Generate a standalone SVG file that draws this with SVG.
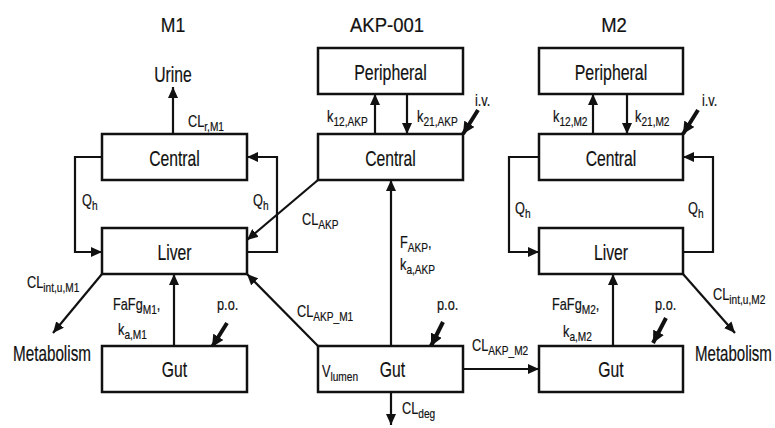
<svg xmlns="http://www.w3.org/2000/svg" width="775" height="428" viewBox="0 0 775 428">
<style>
text{font-family:"Liberation Sans",Arial,sans-serif;fill:#111;stroke:#111;stroke-width:0.2}
.t{font-size:21px}
.b{font-size:21.5px}
.l{font-size:17px}
.s{font-size:13.5px}
rect{fill:#fff;stroke:#111;stroke-width:2.5}
.c{fill:none;stroke:#111;stroke-width:2.2;marker-end:url(#ah)}
.k{fill:none;stroke:#111;stroke-width:4;marker-end:url(#ahb)}
</style>
<defs>
<marker id="ah" markerUnits="userSpaceOnUse" markerWidth="11" markerHeight="10" refX="11" refY="5" orient="auto"><path d="M0,0 L11,5 L0,10 z" fill="#111"/></marker>
<marker id="ahb" markerUnits="userSpaceOnUse" markerWidth="12" markerHeight="12" refX="12" refY="6" orient="auto"><path d="M0,0 L12,6 L0,12 z" fill="#111"/></marker>
</defs>
<rect x="0" y="0" width="775" height="428" style="stroke:none"/>

<g id="titles">
<text class="t" text-anchor="middle" transform="translate(173,32) scale(.84,1)">M1</text>
<text class="t" text-anchor="middle" transform="translate(387,32) scale(.88,1)">AKP-001</text>
<text class="t" text-anchor="middle" transform="translate(614,32) scale(.88,1)">M2</text>
</g>

<g id="connectors">
<path class="c" d="M173,134 V87"/>
<path class="c" d="M102,157 H75 V252 H102"/>
<path class="c" d="M247,252 H277 V157 H247"/>
<path class="c" d="M174,346 V274"/>
<path class="c" d="M102,274 L53,333"/>
<path class="k" d="M227,323 L212,347"/>
<path class="c" d="M375,134 V94"/>
<path class="c" d="M407,94 V134"/>
<path class="k" d="M478,110 L463,134"/>
<path class="c" d="M318,180 L247,240"/>
<path class="c" d="M391,346 V180"/>
<path class="c" d="M318,346 L247,274"/>
<path class="k" d="M443,322 L431,346"/>
<path class="c" d="M463,369 H539"/>
<path class="c" d="M391,392 V425"/>
<path class="c" d="M593,134 V94"/>
<path class="c" d="M627,94 V134"/>
<path class="k" d="M698,110 L683,134"/>
<path class="c" d="M539,157 H509 V252 H539"/>
<path class="c" d="M683,252 H713 V157 H683"/>
<path class="c" d="M613,346 V274"/>
<path class="c" d="M683,274 L735,333"/>
<path class="k" d="M666,318 L653,343"/>
</g>

<g id="m1-urine"><text class="b" text-anchor="middle" transform="translate(173,82) scale(.73,1)">Urine</text></g>
<g id="m1-central"><rect x="102" y="134" width="145" height="46"/><text class="b" text-anchor="middle" transform="translate(174.5,166) scale(.73,1)">Central</text></g>
<g id="m1-liver"><rect x="102" y="228" width="145" height="46"/><text class="b" text-anchor="middle" transform="translate(174.5,260) scale(.73,1)">Liver</text></g>
<g id="m1-gut"><rect x="102" y="346" width="145" height="46"/><text class="b" text-anchor="middle" transform="translate(174.5,377) scale(.73,1)">Gut</text></g>
<g id="m1-metabolism"><text class="b" transform="translate(13,361) scale(.71,1)">Metabolism</text></g>

<g id="akp-peripheral"><rect x="318" y="48" width="145" height="46"/><text class="b" text-anchor="middle" transform="translate(390.5,80) scale(.74,1)">Peripheral</text></g>
<g id="akp-central"><rect x="318" y="134" width="145" height="46"/><text class="b" text-anchor="middle" transform="translate(390.5,166) scale(.73,1)">Central</text></g>
<g id="akp-gut"><rect x="318" y="346" width="145" height="46"/><text class="b" text-anchor="middle" transform="translate(392.5,377) scale(.73,1)">Gut</text></g>

<g id="m2-peripheral"><rect x="539" y="48" width="144" height="46"/><text class="b" text-anchor="middle" transform="translate(611,80) scale(.74,1)">Peripheral</text></g>
<g id="m2-central"><rect x="539" y="134" width="144" height="46"/><text class="b" text-anchor="middle" transform="translate(611,166) scale(.73,1)">Central</text></g>
<g id="m2-liver"><rect x="539" y="228" width="144" height="46"/><text class="b" text-anchor="middle" transform="translate(611,260) scale(.73,1)">Liver</text></g>
<g id="m2-gut"><rect x="539" y="346" width="144" height="46"/><text class="b" text-anchor="middle" transform="translate(611,377) scale(.73,1)">Gut</text></g>
<g id="m2-metabolism"><text class="b" transform="translate(695,361) scale(.7,1)">Metabolism</text></g>

<g id="labels">
<text class="l" transform="translate(188,127) scale(.75,1)">CL<tspan class="s" dy="4">r,M1</tspan></text>
<text class="l" transform="translate(82,206) scale(.75,1)">Q<tspan class="s" dy="4">h</tspan></text>
<text class="l" transform="translate(253,206) scale(.75,1)">Q<tspan class="s" dy="4">h</tspan></text>
<text class="l" transform="translate(113,310) scale(.75,1)">FaFg<tspan class="s" dy="4">M1</tspan><tspan dy="-4">,</tspan></text>
<text class="l" transform="translate(118,335) scale(.75,1)">k<tspan class="s" dy="4">a,M1</tspan></text>
<text class="l" transform="translate(217,310) scale(.75,1)">p.o.</text>
<text class="l" transform="translate(27,288) scale(.75,1)">CL<tspan class="s" dy="4">int,u,M1</tspan></text>

<text class="l" transform="translate(327,122) scale(.75,1)">k<tspan class="s" dy="4">12,AKP</tspan></text>
<text class="l" transform="translate(417,122) scale(.75,1)">k<tspan class="s" dy="4">21,AKP</tspan></text>
<text class="l" transform="translate(475,106) scale(.75,1)">i.v.</text>
<text class="l" transform="translate(302,225) scale(.75,1)">CL<tspan class="s" dy="4">AKP</tspan></text>
<text class="l" transform="translate(400,248) scale(.75,1)">F<tspan class="s" dy="4">AKP</tspan><tspan dy="-4">,</tspan></text>
<text class="l" transform="translate(400,270) scale(.75,1)">k<tspan class="s" dy="4">a,AKP</tspan></text>
<text class="l" transform="translate(297,317) scale(.75,1)">CL<tspan class="s" dy="4">AKP_M1</tspan></text>
<text class="l" transform="translate(437,310) scale(.75,1)">p.o.</text>
<text class="l" transform="translate(472,351) scale(.75,1)">CL<tspan class="s" dy="4">AKP_M2</tspan></text>
<text class="l" transform="translate(322,377) scale(.75,1)">V<tspan class="s" dy="4">lumen</tspan></text>
<text class="l" transform="translate(402,414) scale(.75,1)">CL<tspan class="s" dy="4">deg</tspan></text>

<text class="l" transform="translate(553,122) scale(.75,1)">k<tspan class="s" dy="4">12,M2</tspan></text>
<text class="l" transform="translate(635,122) scale(.75,1)">k<tspan class="s" dy="4">21,M2</tspan></text>
<text class="l" transform="translate(702,106) scale(.75,1)">i.v.</text>
<text class="l" transform="translate(515,214) scale(.75,1)">Q<tspan class="s" dy="4">h</tspan></text>
<text class="l" transform="translate(688,214) scale(.75,1)">Q<tspan class="s" dy="4">h</tspan></text>
<text class="l" transform="translate(552,310) scale(.75,1)">FaFg<tspan class="s" dy="4">M2</tspan><tspan dy="-4">,</tspan></text>
<text class="l" transform="translate(563,337) scale(.75,1)">k<tspan class="s" dy="4">a,M2</tspan></text>
<text class="l" transform="translate(655,310) scale(.75,1)">p.o.</text>
<text class="l" transform="translate(713,300) scale(.75,1)">CL<tspan class="s" dy="4">int,u,M2</tspan></text>
</g>
</svg>
